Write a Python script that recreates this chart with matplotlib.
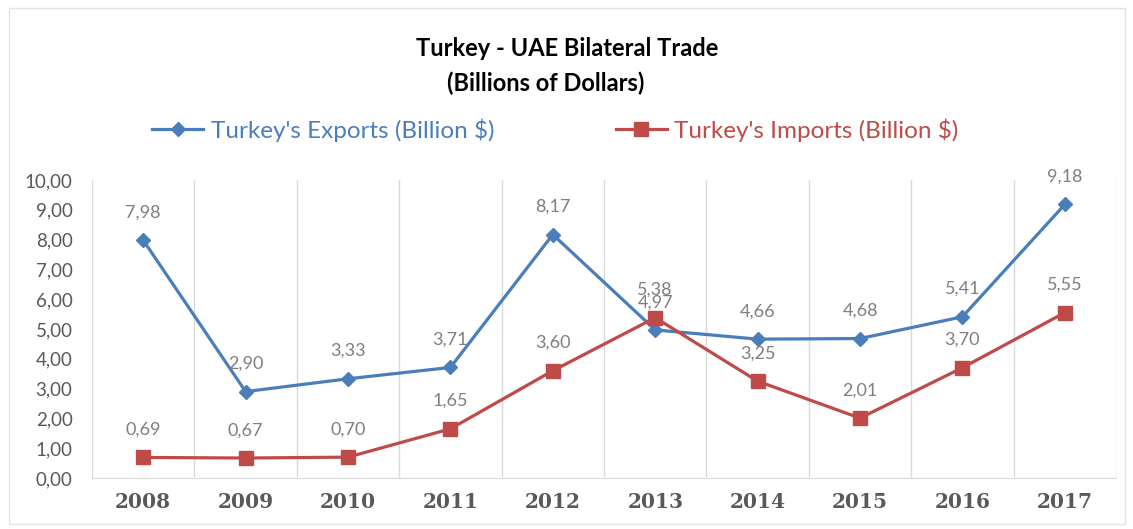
import numpy as np
import matplotlib.pyplot as plt
from matplotlib.patches import Rectangle

years = ['2008', '2009', '2010', '2011', '2012', '2013', '2014', '2015', '2016', '2017']
exports = [7.98, 2.90, 3.33, 3.71, 8.17, 4.97, 4.66, 4.68, 5.41, 9.18]
imports = [0.69, 0.67, 0.70, 1.65, 3.60, 5.38, 3.25, 2.01, 3.70, 5.55]
y_ticks = [0, 1, 2, 3, 4, 5, 6, 7, 8, 9, 10]

blue = '#4A7EBB'
red = '#BE4B48'
grid_gray = '#D9D9D9'
label_gray = '#7F7F7F'
tick_gray = '#595959'
body_font = ['Lato', 'DejaVu Sans']


def comma(v):
    return f'{v:.2f}'.replace('.', ',')


def put_labels(ax, x, values):
    for xi, v in zip(x, values):
        ax.annotate(comma(v), (xi, v), xytext=(0, 20), textcoords='offset points',
                    ha='center', va='center', fontsize=13, color=label_gray,
                    family=body_font)


def plot_trade():
    fig = plt.figure(figsize=(11.33, 5.29), dpi=100)
    ax = fig.add_axes([0.0812, 0.0964, 0.9038, 0.5633])
    ind = np.arange(len(years))

    ax.plot(ind, exports, color=blue, lw=2.3, marker='D', markersize=6.8,
            label="Turkey's Exports (Billion $)", zorder=3)
    ax.plot(ind, imports, color=red, lw=2.3, marker='s', markersize=9.5,
            label="Turkey's Imports (Billion $)", zorder=4)
    put_labels(ax, ind, exports)
    put_labels(ax, ind, imports)

    ax.set_xlim(-0.5, len(years) - 0.5)
    ax.set_ylim(0, 10)
    ax.set_xticks(ind)
    ax.set_xticklabels(years, family=['DejaVu Serif'], fontweight='bold',
                       fontsize=14.5, color=tick_gray)
    ax.set_yticks(y_ticks)
    ax.set_yticklabels([comma(v) for v in y_ticks], family=body_font,
                       fontsize=13.5, color=tick_gray)
    ax.tick_params(axis='both', length=0)
    ax.tick_params(axis='x', pad=10)
    ax.tick_params(axis='y', pad=14)

    # category separators
    ax.set_xticks(np.arange(-0.5, len(years)), minor=True)
    ax.tick_params(axis='x', which='minor', length=0)
    ax.grid(axis='x', which='minor', color=grid_gray, lw=1)
    for s in ['top', 'right', 'left']:
        ax.spines[s].set_visible(False)
    ax.spines['bottom'].set_color(grid_gray)

    fig.text(0.5004, 0.909, 'Turkey - UAE Bilateral Trade', ha='center', va='center',
             fontsize=17, fontweight='bold', color='black', family=body_font)
    fig.text(0.482, 0.843, '(Billions of Dollars)', ha='center', va='center',
             fontsize=17, fontweight='bold', color='black', family=body_font)

    fig.legend(loc='center', bbox_to_anchor=(0.49, 0.754), ncol=2, frameon=False,
               labelcolor='linecolor', prop={'family': body_font, 'size': 17.5},
               handlelength=2.1, handletextpad=0.3, columnspacing=5.0)

    fig.patches.append(Rectangle((0.008, 0.01), 0.985, 0.975, transform=fig.transFigure,
                                 fill=False, edgecolor='#E3E3E3', lw=1))

    fig.savefig('out.png', dpi=100)


if __name__ == '__main__':
    plot_trade()
